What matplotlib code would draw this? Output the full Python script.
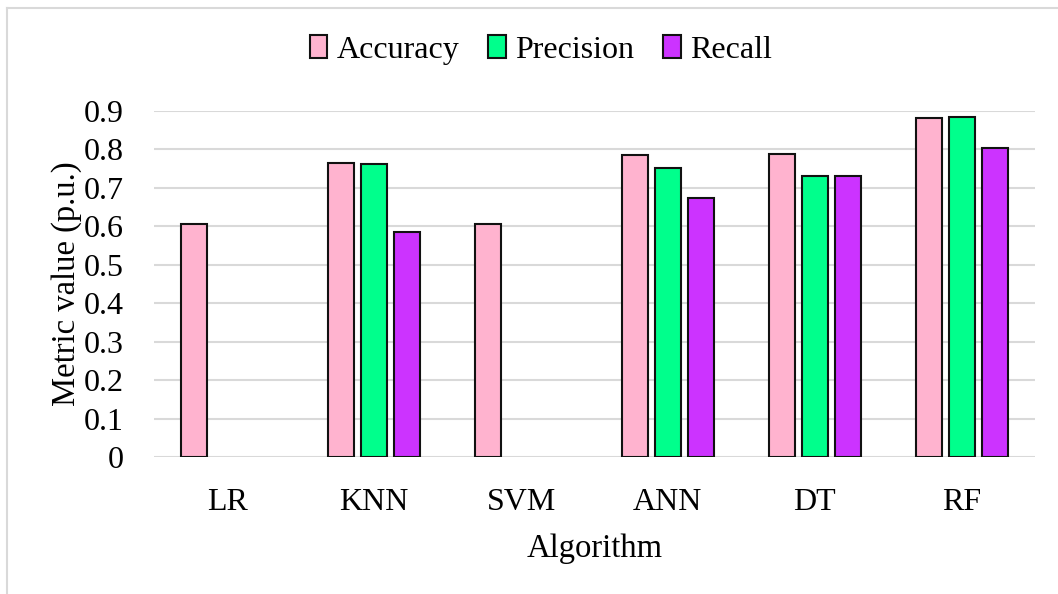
import numpy as np
import matplotlib.pyplot as plt
from matplotlib.lines import Line2D

algorithms = ['LR', 'KNN', 'SVM', 'ANN', 'DT', 'RF']
accuracy = [0.605, 0.764, 0.605, 0.786, 0.788, 0.881]
precision = [np.nan, 0.762, np.nan, 0.753, 0.730, 0.885]
recall = [np.nan, 0.585, np.nan, 0.675, 0.730, 0.804]
y_ticks = [0, 0.1, 0.2, 0.3, 0.4, 0.5, 0.6, 0.7, 0.8, 0.9]

plt.rcParams['font.family'] = ['Liberation Serif', 'DejaVu Serif']

fig = plt.figure(figsize=(10.58, 5.94), dpi=100)
ax = fig.add_axes([154 / 1058, 1 - 457 / 594, (1035 - 154) / 1058, (457 - 111) / 594])

x = np.arange(len(algorithms))
step = 0.225
width = 0.177
series = [('Accuracy', accuracy, '#FFB3CF'),
          ('Precision', precision, '#00FF8C'),
          ('Recall', recall, '#CC33FF')]
for i, (name, vals, col) in enumerate(series):
    ax.bar(x + (i - 1) * step, vals, width, color=col, edgecolor='#111111',
           linewidth=1.5, label=name, zorder=3)

ax.set_xlim(-0.5, len(algorithms) - 0.5)
ax.set_ylim(0, 0.9)
ax.set_yticks(y_ticks)
ax.set_yticklabels(['0' if t == 0 else f'{t:.1f}' for t in y_ticks])
ax.set_xticks(x)
ax.set_xticklabels(algorithms)
ax.yaxis.grid(True, color='#D9D9D9', linewidth=1.5, zorder=0)
ax.set_axisbelow(True)
for s in ax.spines.values():
    s.set_visible(False)
ax.tick_params(axis='both', length=0, labelsize=23)
ax.tick_params(axis='y', pad=22)
ax.tick_params(axis='x', pad=22)
ax.set_xlabel('Algorithm', fontsize=23.5, labelpad=12)
ax.set_ylabel('Metric value (p.u.)', fontsize=23.5, labelpad=1)

fig.legend(loc='center', bbox_to_anchor=(541 / 1058, 1 - 50 / 594), ncol=3,
           frameon=False, fontsize=23, handlelength=0.55, handleheight=0.75,
           handletextpad=0.3, columnspacing=0.9)

# light frame around the picture
fig.add_artist(Line2D([7 / 1058, 7 / 1058], [0, 1 - 8 / 594], transform=fig.transFigure,
                      color='#D9D9D9', linewidth=1.5))
fig.add_artist(Line2D([7 / 1058, 1], [1 - 8 / 594, 1 - 8 / 594], transform=fig.transFigure,
                      color='#D9D9D9', linewidth=1.5))

fig.savefig('out.png', dpi=100)
